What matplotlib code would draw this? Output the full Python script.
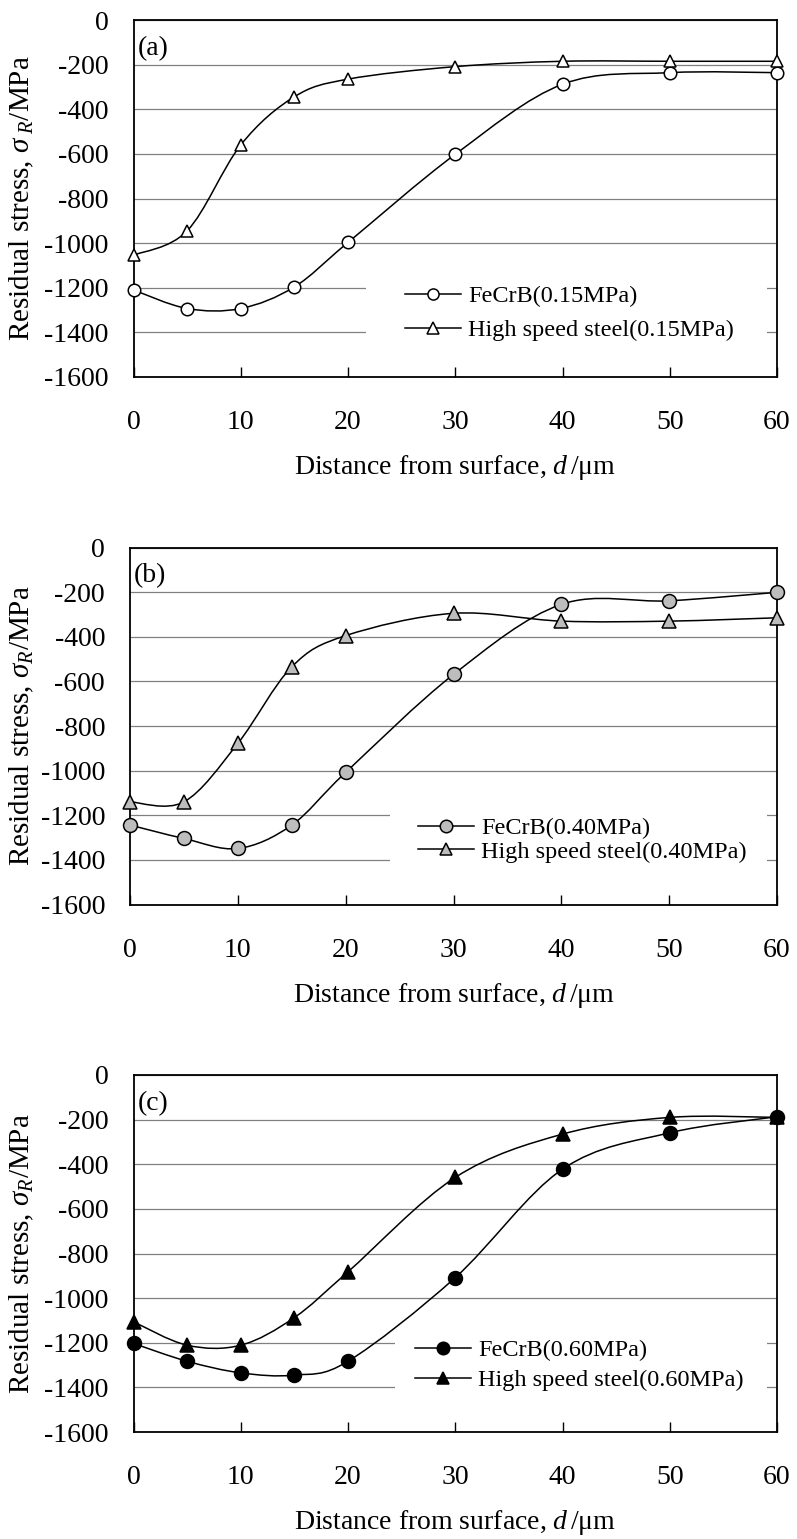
import numpy as np
import matplotlib
matplotlib.use('Agg')
import matplotlib.pyplot as plt
from matplotlib.path import Path
from matplotlib.patches import PathPatch, Rectangle
from matplotlib.lines import Line2D

plt.rcParams['font.family'] = ['Liberation Serif', 'DejaVu Serif']
plt.rcParams['mathtext.fontset'] = 'custom'
plt.rcParams['mathtext.rm'] = 'Liberation Serif'
plt.rcParams['mathtext.it'] = 'Liberation Serif:italic'
plt.rcParams['axes.unicode_minus'] = False

# distance from surface (um)
depth = [0, 5, 10, 15, 20, 30, 40, 50, 60]

# residual stress (MPa)
a_fecrb = [-1210, -1293, -1293, -1196, -997, -602, -288, -236, -236]
a_hss = [-1054, -945, -560, -344, -265, -209, -185, -185, -185]
b_fecrb = [-1244, -1304, -1349, -1244, -1008, -569, -255, -239, -201]
b_hss = [-1140, -1140, -878, -535, -395, -295, -330, -330, -315]
c_fecrb = [-1203, -1283, -1335, -1345, -1283, -908, -422, -259, -187]
c_hss = [-1106, -1211, -1211, -1087, -882, -459, -265, -190, -190]

pressures = ['0.15', '0.40', '0.60']
panel_tags = ['(a)', '(b)', '(c)']


def smooth_path(xs, ys):
    # excel-like smoothed line: bezier segments through the points
    pts = np.column_stack([xs, ys]).astype(float)
    ext = np.vstack([pts[0], pts, pts[-1]])
    verts = [pts[0]]
    codes = [Path.MOVETO]
    for i in range(len(pts) - 1):
        p0, p1, p2, p3 = ext[i], ext[i + 1], ext[i + 2], ext[i + 3]
        verts += [p1 + (p2 - p0) / 6, p2 - (p3 - p1) / 6, p2]
        codes += [Path.CURVE4] * 3
    return Path(verts, codes)


W, H = 797, 1539
fig = plt.figure(figsize=(W / 100, H / 100), dpi=100)

# axes boxes in pixels: left, right, top, bottom
boxes = [(133.5, 777, 20, 377), (130, 777, 547.5, 904.5), (133.5, 777, 1075, 1432)]
# white legend area in pixels: left, right, top, bottom
leg_boxes = [(366, 767, 268, 352), (390, 767, 795, 878), (395, 767, 1330, 1405)]
# legend first-row centre (px) and row spacing
leg_rows = [(405, 297, 0.5), (418, 829, 0.08), (415, 1351, 0.33)]
ylabels = [r'Residual stress, $\sigma_{\ R}$/MPa',
           r'Residual stress, $\sigma_R$/MPa',
           r'Residual stress, $\sigma_R$/MPa']
styles = [
    dict(mfc='white', ms=9),
    dict(mfc='#bdbdbd', ms=10),
    dict(mfc='black', ms=10),
]
series = [(a_fecrb, a_hss), (b_fecrb, b_hss), (c_fecrb, c_hss)]

for k in range(3):
    l, r, t, b = boxes[k]
    ax = fig.add_axes([l / W, 1 - b / H, (r - l) / W, (b - t) / H])
    fe, hs = series[k]
    st = styles[k]
    for vals, mk in [(fe, 'o'), (hs, '^')]:
        ax.add_patch(PathPatch(smooth_path(depth, vals), fill=False,
                               edgecolor='black', lw=1.1, zorder=2))
        ax.plot(depth, vals, ls='none', marker=mk, mec='black', mew=1.1,
                mfc=st['mfc'], ms=st['ms'], zorder=3, clip_on=False)

    ax.set_xlim(0, 60)
    ax.set_ylim(-1600, 0)
    ax.set_xticks(range(0, 61, 10))
    ax.set_yticks(range(-1600, 1, 200))
    ax.set_axisbelow(True)
    ax.yaxis.grid(True, color='#808080', lw=0.9)
    ax.tick_params(axis='x', direction='in', length=7, width=1, pad=24, labelsize=20)
    ax.tick_params(axis='y', length=0, pad=18, labelsize=20)
    for s in ax.spines.values():
        s.set_linewidth(1.3)

    ax.set_xlabel(r'Distance from surface, $d\,$/μm', fontsize=20, labelpad=13)
    ax.set_ylabel(ylabels[k], fontsize=21)
    ax.yaxis.set_label_coords((36 - l) / (r - l), 0.5)
    ax.text(0.006, 0.955, panel_tags[k], transform=ax.transAxes,
            fontsize=20, va='top', ha='left')

    # white legend area covering the grid
    ll, lr, lt, lb = leg_boxes[k]
    ax.add_patch(Rectangle(((ll - l) / (r - l), (b - lb) / (b - t)),
                           (lr - ll) / (r - l), (lb - lt) / (b - t),
                           transform=ax.transAxes, facecolor='white',
                           edgecolor='none', zorder=1))

    handles = [
        Line2D([], [], color='black', lw=1.1, marker='o', mec='black', mew=1.1,
               mfc=st['mfc'], ms=st['ms'] - 1),
        Line2D([], [], color='black', lw=1.1, marker='^', mec='black', mew=1.1,
               mfc=st['mfc'], ms=st['ms'] - 1),
    ]
    labels = ['FeCrB(%sMPa)' % pressures[k], 'High speed steel(%sMPa)' % pressures[k]]
    hx, hy, lsp = leg_rows[k]
    ax.legend(handles, labels, loc='upper left', frameon=False, fontsize=17.5,
              bbox_to_anchor=((hx - l) / (r - l), (b - hy + 12) / (b - t)),
              borderpad=0, borderaxespad=0, handlelength=2.3,
              handletextpad=0.3, labelspacing=lsp)

fig.savefig('out.png', dpi=100)
